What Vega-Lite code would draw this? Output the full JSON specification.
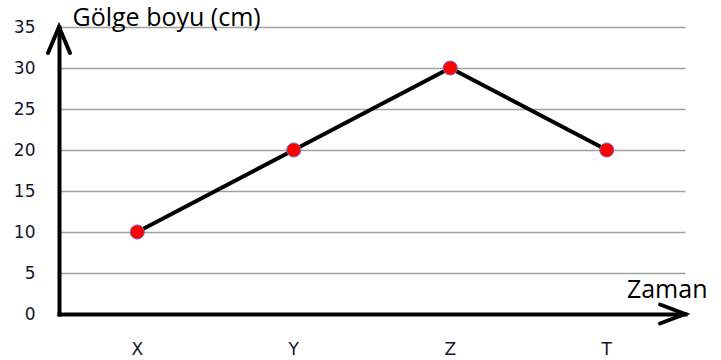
{
  "$schema": "https://vega.github.io/schema/vega-lite/v6.json",
  "width": 626,
  "height": 287,
  "autosize": {"type": "none"},
  "padding": {"left": 59, "top": 27, "right": 36, "bottom": 46},
  "background": "white",
  "config": {
    "view": {"stroke": null},
    "axis": {"labelFont": "DejaVu Sans", "labelFontSize": 17, "labelColor": "#15152a", "ticks": false, "tickSize": 0, "domainColor": "black", "domainWidth": 4, "domainCap": "square", "titleFont": "Open Sans", "titleFontWeight": "normal", "titleFontSize": 25, "titleColor": "black"}
  },
  "layer": [
    {
      "data": {"values": [
        {"zaman": "X", "boy": 10},
        {"zaman": "Y", "boy": 20},
        {"zaman": "Z", "boy": 30},
        {"zaman": "T", "boy": 20}
      ]},
      "layer": [
        {
          "mark": {"type": "line", "color": "black", "strokeWidth": 4},
          "encoding": {
            "x": {"field": "zaman", "type": "nominal", "sort": ["X", "Y", "Z", "T"],
              "scale": {"type": "band", "paddingInner": 0, "paddingOuter": 0},
              "axis": {"labelAngle": 0, "labelPadding": 27, "labelBaseline": "top", "grid": false,
                "title": "Zaman", "titleAngle": 0, "titleAlign": "right", "titleBaseline": "alphabetic", "titleX": 648, "titleY": -17}},
            "y": {"field": "boy", "type": "quantitative", "scale": {"domain": [0, 35], "nice": false},
              "axis": {"values": [0, 5, 10, 15, 20, 25, 30, 35], "grid": true, "gridColor": "#a0a0a0", "gridWidth": 1.5,
                "labelPadding": 24, "labelBaseline": "middle",
                "title": "Gölge boyu (cm)", "titleAngle": 0, "titleAlign": "left", "titleBaseline": "alphabetic", "titleX": 13, "titleY": -2}}
          }
        },
        {
          "mark": {"type": "point", "filled": true, "fill": "#ff0000", "stroke": "#7070b0", "strokeWidth": 1, "size": 200, "opacity": 1},
          "encoding": {
            "x": {"field": "zaman", "type": "nominal", "sort": ["X", "Y", "Z", "T"]},
            "y": {"field": "boy", "type": "quantitative"}
          }
        }
      ]
    },
    {
      "data": {"values": [
        {"ax": 0, "ay": 35, "dir": "up"},
        {"ax": 1, "ay": 0, "dir": "right"}
      ]},
      "mark": {"type": "point", "filled": false, "stroke": "black", "strokeWidth": 4, "size": 400, "opacity": 1, "strokeJoin": "miter", "strokeCap": "round"},
      "encoding": {
        "x": {"field": "ax", "type": "quantitative", "scale": {"domain": [0, 1], "nice": false, "zero": false}, "axis": null},
        "y": {"field": "ay", "type": "quantitative"},
        "shape": {"field": "dir", "type": "nominal", "legend": null,
          "scale": {"domain": ["up", "right"], "range": ["M-1.1,2.6L0,0L1.1,2.6", "M-2.5,-0.95L0,0L-2.5,0.95"]}}
      }
    }
  ],
  "resolve": {"scale": {"x": "independent"}}
}
